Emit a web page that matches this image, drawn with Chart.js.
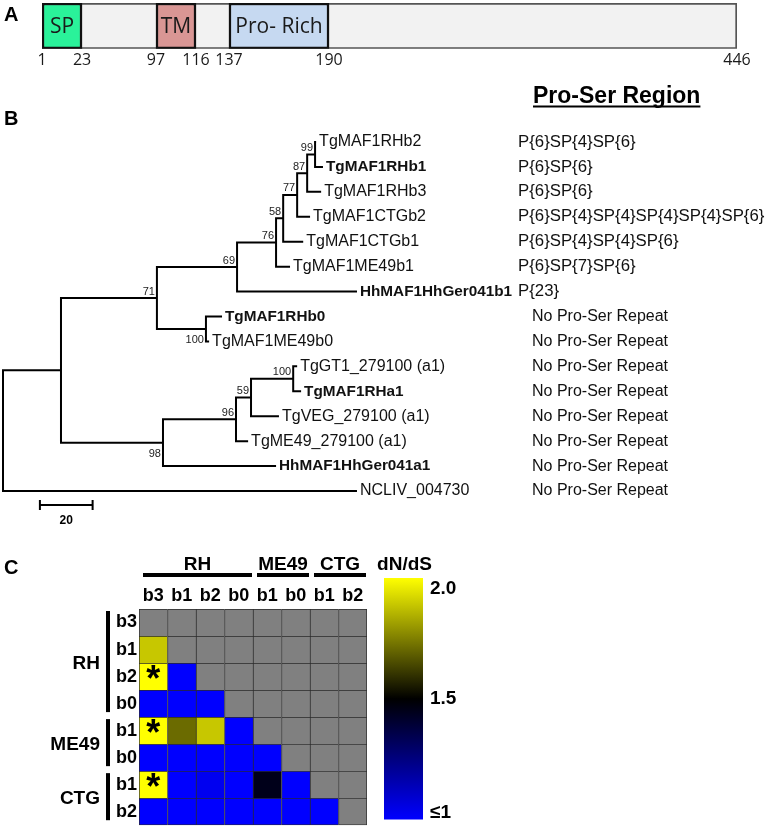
<!DOCTYPE html>
<html>
<head>
<meta charset="utf-8">
<script src="https://cdn.jsdelivr.net/npm/chart.js@4.4.1/dist/chart.umd.min.js"></script>
<style>
  body { margin: 0; background: #fff; width: 768px; height: 838px; overflow: hidden; position: relative; }
  canvas { position: absolute; }
</style>
</head>
<body>
<canvas id="domains" width="768" height="72" style="left:0px;top:0px"></canvas>
<canvas id="tree" width="768" height="450" style="left:0px;top:85px"></canvas>
<canvas id="heat" width="370" height="298" style="left:0px;top:540px"></canvas>
<canvas id="colorbar" width="120" height="298" style="left:370px;top:540px"></canvas>
<script>
// ---- A: MAF1 domains ----
const proteinLength = 446;
const domainNames = ["SP", "TM", "Pro- Rich"];
const domainStart = [1, 97, 137];
const domainEnd = [23, 116, 190];
const residueTicks = [1, 23, 97, 116, 137, 190, 446];

// ---- B: tree (distances from root, scale bar = 20) ----
const taxa = [
  "TgMAF1RHb2", "TgMAF1RHb1", "TgMAF1RHb3", "TgMAF1CTGb2", "TgMAF1CTGb1",
  "TgMAF1ME49b1", "HhMAF1HhGer041b1", "TgMAF1RHb0", "TgMAF1ME49b0",
  "TgGT1_279100 (a1)", "TgMAF1RHa1", "TgVEG_279100 (a1)", "TgME49_279100 (a1)",
  "HhMAF1HhGer041a1", "NCLIV_004730"
];
const taxonDepth = [118.8, 121.4, 120.7, 116.5, 113.9, 108.9, 134.3, 83.1, 78.2, 111.6, 113.1, 104.7, 93.0, 103.6, 134.3];
const boldTaxa = ["TgMAF1RHb1", "HhMAF1HhGer041b1", "TgMAF1RHb0", "TgMAF1RHa1", "HhMAF1HhGer041a1"];
const proSerRegion = [
  "P{6}SP{4}SP{6}", "P{6}SP{6}", "P{6}SP{6}", "P{6}SP{4}SP{4}SP{4}SP{4}SP{6}",
  "P{6}SP{4}SP{4}SP{6}", "P{6}SP{7}SP{6}", "P{23}",
  "No Pro-Ser Repeat", "No Pro-Ser Repeat", "No Pro-Ser Repeat", "No Pro-Ser Repeat",
  "No Pro-Ser Repeat", "No Pro-Ser Repeat", "No Pro-Ser Repeat", "No Pro-Ser Repeat"
];
// clades as ranges of leaf rows
const cladeFirst = [0, 0, 0, 0, 0, 0, 7, 0, 9, 9, 9, 9, 0, 0];
const cladeLast = [1, 2, 3, 4, 5, 6, 8, 8, 10, 11, 12, 13, 13, 14];
const cladeDepth = [118.4, 115.4, 111.6, 106.3, 103.6, 88.8, 77.0, 58.4, 110.1, 94.1, 88.4, 60.7, 22.0, 0];
const cladeSupport = [99, 87, 77, 58, 76, 69, 100, 71, 100, 59, 96, 98, null, null];
const scaleBarLength = 20;

// ---- C: dN/dS ----
const strains = ["RH", "RH", "RH", "RH", "ME49", "ME49", "CTG", "CTG"];
const copies = ["b3", "b1", "b2", "b0", "b1", "b0", "b1", "b2"];
const dnds = [
  [null, null, null, null, null, null, null, null],
  [1.89, null, null, null, null, null, null, null],
  [2.0, 1.0, null, null, null, null, null, null],
  [1.0, 1.0, 1.0, null, null, null, null, null],
  [2.0, 1.71, 1.89, 1.0, null, null, null, null],
  [1.0, 1.0, 1.0, 1.0, 1.0, null, null, null],
  [2.0, 1.0, 1.03, 1.0, 1.45, 1.0, null, null],
  [1.0, 1.0, 1.0, 1.0, 1.0, 1.0, 1.0, null]
];
const significant = [[2, 0], [4, 0], [6, 0]];
const colorbarTicks = [2.0, 1.5, 1.0];
const colorbarLabels = ["2.0", "1.5", "≤1"];

const sans = '"Liberation Sans", Arial, sans-serif';

function colorFor(v) {
  if (v === null) return "#808080";
  const t = Math.min(Math.max(v, 1), 2);
  if (t <= 1.5) {
    const f = (1.5 - t) / 0.5;
    return `rgb(0,0,${Math.round(255 * f)})`;
  }
  const f = (t - 1.5) / 0.5;
  return `rgb(${Math.round(255 * f)},${Math.round(255 * f)},0)`;
}

// residue axis drawn like the figure: boundaries spaced by hand, not to scale
class PiecewiseScale extends Chart.LinearScale {
  static id = "piecewise";
  toDecimal(v) {
    const b = this.options.breaks, f = this.options.fractions;
    let i = 0;
    while (i < b.length - 2 && v > b[i + 1]) i++;
    return f[i] + (v - b[i]) / (b[i + 1] - b[i]) * (f[i + 1] - f[i]);
  }
  getPixelForValue(v) {
    return v === null ? NaN : this.getPixelForDecimal(this.toDecimal(v));
  }
  getValueForPixel(p) {
    const d = this.getDecimalForPixel(p);
    const b = this.options.breaks, f = this.options.fractions;
    let i = 0;
    while (i < f.length - 2 && d > f[i + 1]) i++;
    return b[i] + (d - f[i]) / (f[i + 1] - f[i]) * (b[i + 1] - b[i]);
  }
}
Chart.register(PiecewiseScale);

const domainColors = ["#2af29a", "#d99694", "#c6d9f1"];

const domainText = {
  id: "domainText",
  afterDatasetsDraw(chart) {
    const { ctx } = chart;
    ctx.save();
    ctx.font = '21px "Open Sans", sans-serif';
    ctx.fillStyle = "#1a1a1a";
    ctx.textAlign = "center";
    ctx.textBaseline = "middle";
    domainNames.forEach((name, i) => {
      const bar = chart.getDatasetMeta(i).data[0];
      ctx.fillText(name, (bar.x + bar.base) / 2, bar.y + 1);
    });
    ctx.font = "bold 20px " + sans;
    ctx.fillStyle = "#000";
    ctx.textAlign = "left";
    ctx.fillText("A", 4, 15);
    ctx.restore();
  }
};

new Chart(document.getElementById("domains"), {
  type: "bar",
  data: {
    labels: ["MAF1"],
    datasets: [
      ...domainNames.map((name, i) => ({
        label: name,
        data: [[domainStart[i], domainEnd[i]]],
        backgroundColor: domainColors[i],
        borderColor: "#111",
        borderWidth: 2.5,
        borderSkipped: false,
        grouped: false,
        barPercentage: 1,
        categoryPercentage: 1,
        order: 0
      })),
      {
        label: "MAF1",
        data: [[1, proteinLength]],
        backgroundColor: "#f2f2f2",
        borderColor: "#555",
        borderWidth: 2,
        borderSkipped: false,
        grouped: false,
        barPercentage: 1,
        categoryPercentage: 1,
        order: 1
      }
    ]
  },
  options: {
    indexAxis: "y",
    responsive: false,
    animation: false,
    layout: { padding: { left: 42, right: 31, top: 3, bottom: 0 } },
    plugins: { legend: { display: false }, tooltip: { enabled: false } },
    scales: {
      x: {
        type: "piecewise",
        min: 1,
        max: proteinLength,
        breaks: residueTicks,
        fractions: [0, 0.0576, 0.164, 0.2216, 0.269, 0.413, 1],
        grid: { display: false, drawTicks: false },
        border: { display: false },
        afterBuildTicks: (s) => { s.ticks = residueTicks.map((v) => ({ value: v })); },
        ticks: {
          autoSkip: false,
          maxRotation: 0,
          padding: 2,
          color: "#1a1a1a",
          font: { family: "Open Sans", size: 16 },
          callback: (v) => String(v)
        }
      },
      y: { display: false }
    }
  },
  plugins: [domainText]
});

// ---- tree layout from the clade ranges ----
const leafNodes = taxa.map((name, i) => ({ first: i, last: i, depth: taxonDepth[i], y: i }));
const cladeNodes = cladeFirst.map((f, k) => ({
  first: f, last: cladeLast[k], depth: cladeDepth[k], support: cladeSupport[k], index: k
}));
const allNodes = leafNodes.concat(cladeNodes);
const within = (a, b) => a !== b && a.first >= b.first && a.last <= b.last;
cladeNodes.slice().sort((a, b) => (a.last - a.first) - (b.last - b.first)).forEach((c) => {
  c.kids = allNodes.filter((n) => within(n, c) && !allNodes.some((m) => m !== c && within(n, m) && within(m, c)));
  c.kids.sort((a, b) => a.y - b.y);
  c.y = (c.kids[0].y + c.kids[c.kids.length - 1].y) / 2;
});

const branchSets = cladeNodes.map((c) => {
  const a = c.kids[0], b = c.kids[c.kids.length - 1];
  return {
    data: [
      { x: a.depth, y: a.y }, { x: c.depth, y: a.y },
      { x: c.depth, y: b.y }, { x: b.depth, y: b.y }
    ],
    showLine: true,
    pointRadius: 0,
    borderColor: "#000",
    borderWidth: 2,
    borderJoinStyle: "miter",
    tension: 0,
    clip: false
  };
});

const supportBelow = [6, 11];

const treeText = {
  id: "treeText",
  afterDatasetsDraw(chart) {
    const { ctx, chartArea, scales: { x, y } } = chart;
    ctx.save();
    ctx.fillStyle = "#111";
    ctx.textBaseline = "middle";
    ctx.textAlign = "left";
    taxa.forEach((name, i) => {
      ctx.font = (boldTaxa.includes(name) ? "bold 15.3px " : "16px ") + sans;
      ctx.fillText(name, x.getPixelForValue(taxonDepth[i]) + 3, y.getPixelForValue(i));
      const repeat = proSerRegion[i].startsWith("P");
      ctx.font = (repeat ? "16.8px " : "16px ") + sans;
      ctx.fillText(proSerRegion[i], repeat ? 518 : 532, y.getPixelForValue(i));
    });

    ctx.font = "11px " + sans;
    ctx.fillStyle = "#222";
    ctx.textAlign = "right";
    cladeNodes.forEach((c) => {
      if (c.support === null) return;
      const px = x.getPixelForValue(c.depth) - 2;
      const py = y.getPixelForValue(c.y);
      if (supportBelow.includes(c.index)) {
        ctx.textBaseline = "top";
        ctx.fillText(String(c.support), px, py + 6);
      } else {
        ctx.textBaseline = "bottom";
        ctx.fillText(String(c.support), px, py - 1);
      }
    });

    // scale bar
    const x0 = x.getPixelForValue(14), x1 = x.getPixelForValue(14 + scaleBarLength);
    const sy = chartArea.bottom + 1.5;
    ctx.strokeStyle = "#000";
    ctx.lineWidth = 2;
    ctx.beginPath();
    ctx.moveTo(x0, sy); ctx.lineTo(x1, sy);
    ctx.moveTo(x0, sy - 5); ctx.lineTo(x0, sy + 5);
    ctx.moveTo(x1, sy - 5); ctx.lineTo(x1, sy + 5);
    ctx.stroke();
    ctx.fillStyle = "#000";
    ctx.font = "bold 12px " + sans;
    ctx.textAlign = "center";
    ctx.textBaseline = "middle";
    ctx.fillText(String(scaleBarLength), (x0 + x1) / 2, sy + 16);

    // panel letter and column header
    ctx.font = "bold 20px " + sans;
    ctx.textAlign = "left";
    ctx.fillText("B", 4, 34.5);
    ctx.font = "bold 23px " + sans;
    ctx.textBaseline = "alphabetic";
    const head = "Pro-Ser Region";
    ctx.fillText(head, 533, 18);
    ctx.fillRect(533, 20.5, ctx.measureText(head).width, 2);
    ctx.restore();
  }
};

new Chart(document.getElementById("tree"), {
  type: "scatter",
  data: { datasets: branchSets },
  options: {
    responsive: false,
    animation: false,
    layout: { padding: { left: 3, right: 396, top: 44.5, bottom: 31.5 } },
    plugins: { legend: { display: false }, tooltip: { enabled: false } },
    scales: {
      x: { type: "linear", min: 0, max: 140, display: false },
      y: { type: "linear", min: -0.5, max: taxa.length - 0.5, reverse: true, display: false }
    }
  },
  plugins: [treeText]
});

// ---- C: heatmap ----
function runs(arr) {
  const out = [];
  arr.forEach((g, i) => {
    const last = out[out.length - 1];
    if (last && last.name === g) last.last = i;
    else out.push({ name: g, first: i, last: i });
  });
  return out;
}

const heatDecor = {
  id: "heatDecor",
  afterDraw(chart) {
    const { ctx, scales: { x, y } } = chart;
    const cw = x.width / copies.length;
    ctx.save();
    ctx.fillStyle = "#000";
    ctx.strokeStyle = "#000";
    ctx.textBaseline = "middle";
    ctx.font = "bold 20px " + sans;
    ctx.textAlign = "left";
    ctx.fillText("C", 4, 28.5);
    ctx.font = "bold 19px " + sans;
    ctx.lineWidth = 4;
    runs(strains).forEach((g) => {
      const x0 = x.getPixelForValue(g.first) - cw / 2 + 4;
      const x1 = x.getPixelForValue(g.last) + cw / 2 - 1;
      ctx.beginPath(); ctx.moveTo(x0, 35); ctx.lineTo(x1, 35); ctx.stroke();
      ctx.textAlign = "center";
      ctx.fillText(g.name, (x0 + x1) / 2, 25);
      const y0 = y.getPixelForValue(g.first) + 2;
      const y1 = y.getPixelForValue(g.last + 1) - 5;
      ctx.beginPath(); ctx.moveTo(108, y0); ctx.lineTo(108, y1); ctx.stroke();
      ctx.textAlign = "right";
      ctx.fillText(g.name, 100, (y0 + y1) / 2 + 2);
    });
    ctx.font = "bold 36px " + sans;
    ctx.textAlign = "center";
    ctx.textBaseline = "alphabetic";
    const m = ctx.measureText("*");
    significant.forEach(([r, c]) => {
      const cx = x.getPixelForValue(c);
      const cy = (y.getPixelForValue(r) + y.getPixelForValue(r + 1)) / 2 - 5;
      ctx.fillText("*", cx, cy + (m.actualBoundingBoxAscent - m.actualBoundingBoxDescent) / 2);
    });
    ctx.restore();
  }
};

new Chart(document.getElementById("heat"), {
  type: "bar",
  data: {
    labels: copies,
    datasets: copies.map((_, r) => ({
      data: copies.map(() => [r, r + 1]),
      backgroundColor: copies.map((_, c) => colorFor(dnds[r][c])),
      borderColor: "#2a2a2a",
      borderWidth: copies.map((_, c) => ({ top: 1, left: 1, right: c === copies.length - 1 ? 1 : 0, bottom: r === copies.length - 1 ? 1 : 0 })),
      borderSkipped: false,
      grouped: false,
      barPercentage: 1,
      categoryPercentage: 1
    }))
  },
  options: {
    responsive: false,
    animation: false,
    layout: { padding: { left: 0, right: 3, top: 0, bottom: 3 } },
    plugins: { legend: { display: false }, tooltip: { enabled: false } },
    scales: {
      x: {
        position: "top",
        grid: { display: false, drawTicks: false },
        border: { display: false },
        ticks: { color: "#000", padding: 2, maxRotation: 0, autoSkip: false, font: { family: "Liberation Sans", size: 18, weight: "bold" } },
        afterFit: (s) => { s.height = 69; }
      },
      y: {
        type: "linear",
        min: 0,
        max: copies.length,
        reverse: true,
        grid: { display: false, drawTicks: false },
        border: { display: false },
        afterBuildTicks: (s) => { s.ticks = copies.map((_, i) => ({ value: i + 0.5 })); },
        ticks: { color: "#000", padding: 2, autoSkip: false, font: { family: "Liberation Sans", size: 18, weight: "bold" }, callback: (v, i) => copies[i] },
        afterFit: (s) => { s.width = 139; }
      }
    }
  },
  plugins: [heatDecor]
});

// ---- colour key ----
new Chart(document.getElementById("colorbar"), {
  type: "bar",
  data: {
    labels: ["dN/dS"],
    datasets: [{
      data: [[1, 2]],
      borderWidth: 0,
      barPercentage: 1,
      categoryPercentage: 1,
      backgroundColor: (c) => {
        const ys = c.chart.scales.y;
        if (!ys || ys.top === undefined) return "#0000ff";
        const g = c.chart.ctx.createLinearGradient(0, ys.getPixelForValue(1), 0, ys.getPixelForValue(2));
        g.addColorStop(0, colorFor(1));
        g.addColorStop(0.5, colorFor(1.5));
        g.addColorStop(1, colorFor(2));
        return g;
      }
    }]
  },
  options: {
    responsive: false,
    animation: false,
    layout: { padding: { left: 14, right: 0, top: 38, bottom: 5 } },
    plugins: { legend: { display: false }, tooltip: { enabled: false } },
    scales: {
      x: { display: false },
      y: {
        position: "right",
        min: 1,
        max: 2,
        grid: { display: false, drawTicks: false },
        border: { display: false },
        afterBuildTicks: (s) => { s.ticks = colorbarTicks.map((v) => ({ value: Math.min(Math.max(v, 1.03), 1.955) })); },
        ticks: { color: "#000", padding: 7, autoSkip: false, font: { family: "Liberation Sans", size: 19, weight: "bold" }, callback: (v, i) => colorbarLabels[i] },
        afterFit: (s) => { s.width = 67; }
      }
    }
  },
  plugins: [{
    id: "keyTitle",
    afterDraw(chart) {
      const { ctx, chartArea } = chart;
      ctx.save();
      ctx.font = "bold 19px " + sans;
      ctx.fillStyle = "#000";
      ctx.textAlign = "center";
      ctx.textBaseline = "middle";
      ctx.fillText("dN/dS", (chartArea.left + chartArea.right) / 2 + 1, 25);
      ctx.restore();
    }
  }]
});
</script>
</body>
</html>
